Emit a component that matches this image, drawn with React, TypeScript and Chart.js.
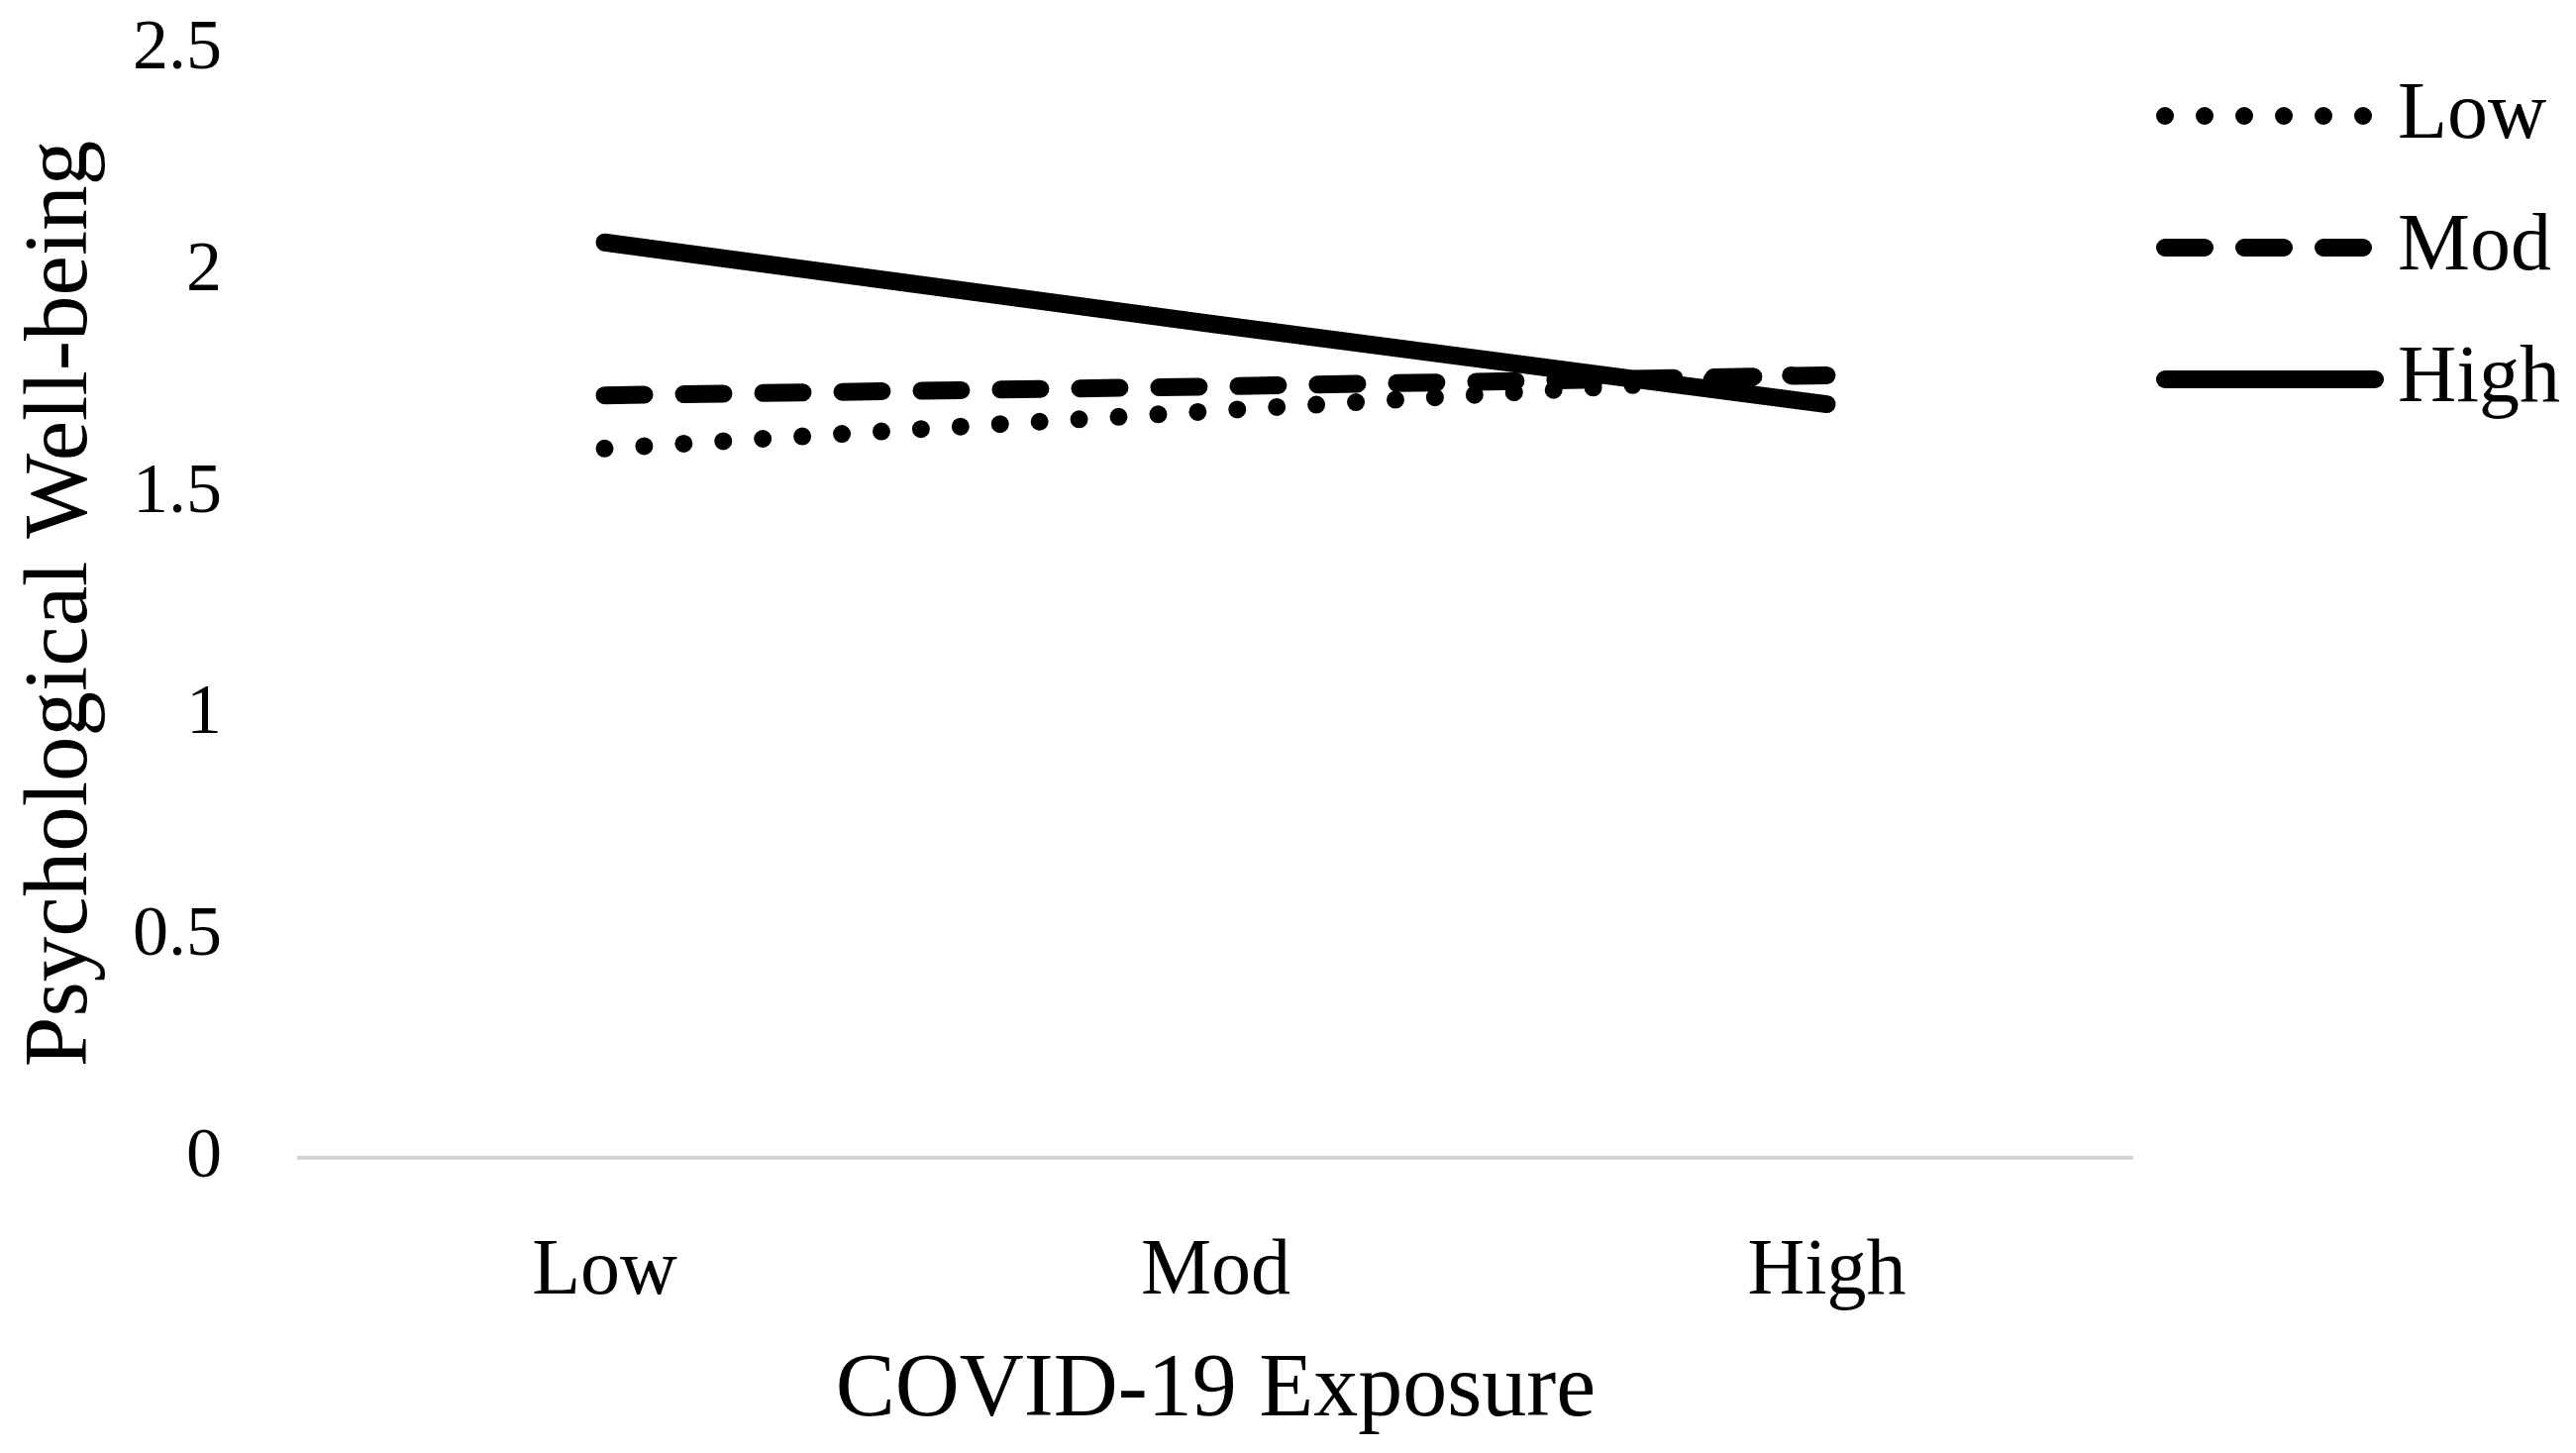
import React, { useEffect, useRef } from "react";
import { Chart, registerables } from "chart.js";

Chart.register(...registerables);

const categories = ["Low", "Mod", "High"];
const seriesLabels = ["Low", "Mod", "High"];
const lowValues = [1.6, 1.685, 1.77];
const modValues = [1.72, 1.74, 1.765];
const highValues = [2.065, 1.88, 1.7];
const yMin = 0;
const yMax = 2.5;
const yStep = 0.5;
const xTitle = "COVID-19 Exposure";
const yTitle = "Psychological Well-being";

const FONT = '"Liberation Serif", "Times New Roman", serif';

const legendPlugin = {
  id: "customLegend",
  afterDraw(chart: any) {
    const ctx = chart.ctx;
    const right = chart.chartArea.right;
    ctx.save();
    chart.data.datasets.forEach((ds: any, i: number) => {
      const y = 109 + i * 133;
      const x0 = right + 33;
      const x1 = right + 245;
      ctx.beginPath();
      ctx.lineWidth = ds.borderWidth;
      ctx.strokeStyle = ds.borderColor;
      ctx.lineCap = "round";
      ctx.setLineDash(ds.borderDash || []);
      ctx.moveTo(x0, y);
      ctx.lineTo(x1, y);
      ctx.stroke();
      ctx.setLineDash([]);
      ctx.fillStyle = "#000";
      ctx.font = `82px ${FONT}`;
      ctx.textBaseline = "middle";
      ctx.textAlign = "left";
      ctx.fillText(ds.label, right + 268, y);
    });
    ctx.restore();
  },
};

export default function App() {
  const ref = useRef<HTMLCanvasElement | null>(null);
  useEffect(() => {
    if (!ref.current) return;
    const chart = new Chart(ref.current, {
      type: "line",
      data: {
        labels: categories,
        datasets: [
          {
            label: seriesLabels[0],
            data: lowValues,
            borderColor: "#000",
            borderWidth: 18,
            borderDash: [0, 40],
            borderCapStyle: "round",
            borderJoinStyle: "round",
            pointRadius: 0,
            fill: false,
          },
          {
            label: seriesLabels[1],
            data: modValues,
            borderColor: "#000",
            borderWidth: 18,
            borderDash: [40, 40],
            borderCapStyle: "round",
            borderJoinStyle: "round",
            pointRadius: 0,
            fill: false,
          },
          {
            label: seriesLabels[2],
            data: highValues,
            borderColor: "#000",
            borderWidth: 18,
            borderDash: [],
            borderCapStyle: "round",
            borderJoinStyle: "round",
            pointRadius: 0,
            fill: false,
          },
        ],
      },
      options: {
        animation: false,
        responsive: false,
        devicePixelRatio: 1,
        layout: { padding: { left: 0, right: 440, top: 42, bottom: 0 } },
        plugins: {
          legend: { display: false },
          tooltip: { enabled: false },
        },
        scales: {
          x: {
            offset: true,
            grid: { display: false },
            border: { display: true, color: "#d4d4d4", width: 4 },
            ticks: {
              color: "#000",
              padding: 68,
              font: { family: FONT, size: 80, lineHeight: 1 },
            },
            title: {
              display: true,
              text: xTitle,
              color: "#000",
              font: { family: FONT, size: 90, lineHeight: 1 },
              padding: { top: 0, bottom: 9 },
            },
            afterFit(scale: any) {
              scale.height = 290;
            },
          },
          y: {
            min: yMin,
            max: yMax,
            grid: { display: false },
            border: { display: false },
            ticks: {
              stepSize: yStep,
              color: "#000",
              padding: 70,
              font: { family: FONT, size: 72, lineHeight: 1 },
              callback: (v: any) => String(v),
            },
            title: {
              display: true,
              text: yTitle,
              color: "#000",
              font: { family: FONT, size: 91, lineHeight: 1 },
              padding: { top: 10, bottom: 0 },
            },
            afterFit(scale: any) {
              scale.width = 294;
              scale.paddingTop = 0;
              scale.paddingBottom = 0;
            },
          },
        },
      },
      plugins: [legendPlugin],
    });
    return () => chart.destroy();
  }, []);
  return (
    <canvas
      ref={ref}
      width={2585}
      height={1451}
      style={{ display: "block", width: "2585px", height: "1451px" }}
    />
  );
}
